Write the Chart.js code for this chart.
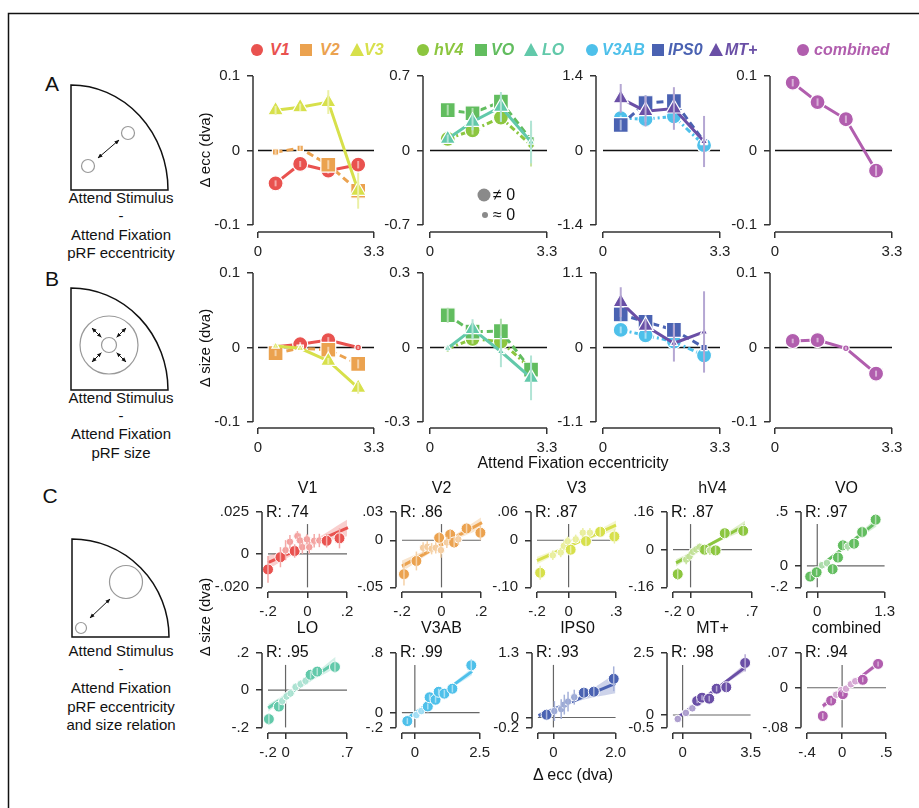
<!DOCTYPE html>
<html><head><meta charset="utf-8">
<script src="https://cdn.jsdelivr.net/npm/chart.js@4.4.0/dist/chart.umd.min.js"></script>
<style>
body{margin:0;background:#fff;font-family:"Liberation Sans",Arial,Helvetica,sans-serif;}
#root{position:relative;width:919px;height:808px;overflow:hidden;background:#fff;}
.t{position:absolute;white-space:nowrap;color:#111;line-height:1;}
canvas{position:absolute;}
svg{position:absolute;left:0;top:0;}
</style></head><body><div id="root"></div>
<script>
// ---------------- DATA ----------------
const areaNames = ['V1','V2','V3','hV4','VO','LO','V3AB','IPS0','MT+','combined'];
const panelAreas = [[0,1,2],[3,4,5],[6,7,8],[9]];
const attendFixEcc = [0.5, 1.2, 2.0, 2.85];
const xTicksAB = [0, 3.3];
const xLabelsAB = ['0', '3.3'];

// Row A: delta eccentricity (dva), per area, per eccentricity bin
const dEccMean = [
  [-0.044, -0.018, -0.027, -0.019],
  [-0.002, 0.003, -0.019, -0.054],
  [0.054, 0.058, 0.065, -0.054],
  [0.11, 0.19, 0.31, 0.05],
  [0.38, 0.35, 0.46, 0.10],
  [0.11, 0.27, 0.41, 0.08],
  [0.61, 0.59, 0.64, 0.10],
  [0.48, 0.89, 0.93, 0.17],
  [0.98, 0.74, 0.79, 0.17],
  [0.091, 0.065, 0.042, -0.027]
];
const dEccErr = [
  [0.004, 0.004, 0.004, 0.005],
  [0.003, 0.003, 0.006, 0.012],
  [0.006, 0.005, 0.016, 0.024],
  [0.04, 0.04, 0.04, 0.2],
  [0.05, 0.05, 0.05, 0.1],
  [0.04, 0.08, 0.14, 0.2],
  [0.05, 0.05, 0.05, 0.08],
  [0.1, 0.15, 0.15, 0.1],
  [0.27, 0.29, 0.4, 0.48],
  [0.005, 0.005, 0.005, 0.007]
];
const dEccSig = [
  [1,1,1,1],[0,0,1,1],[1,1,1,1],
  [1,1,1,0],[1,1,1,0],[1,1,1,0],
  [1,1,1,1],[1,1,1,0],[1,1,1,0],
  [1,1,1,1]
];
const yTicksA = [[-0.1,0,0.1],[-0.7,0,0.7],[-1.4,0,1.4],[-0.1,0,0.1]];
const yLabelsA = [['-0.1','0','0.1'],['-0.7','0','0.7'],['-1.4','0','1.4'],['-0.1','0','0.1']];

// Row B: delta size (dva)
const dSizeMean = [
  [0.001, 0.0044, 0.010, 0.0],
  [-0.0075, -0.001, -0.003, -0.022],
  [0.002, -0.001, -0.018, -0.054],
  [-0.005, 0.035, 0.024, -0.085],
  [0.13, 0.064, 0.066, -0.089],
  [-0.003, 0.074, -0.016, -0.122],
  [0.26, 0.18, 0.088, -0.117],
  [0.49, 0.38, 0.26, 0.0],
  [0.67, 0.32, 0.063, 0.23],
  [0.0088, 0.010, -0.001, -0.035]
];
const dSizeErr = [
  [0.003, 0.003, 0.004, 0.002],
  [0.004, 0.002, 0.004, 0.006],
  [0.002, 0.002, 0.004, 0.008],
  [0.01, 0.02, 0.02, 0.03],
  [0.03, 0.03, 0.05, 0.04],
  [0.01, 0.04, 0.063, 0.09],
  [0.05, 0.05, 0.08, 0.05],
  [0.1, 0.1, 0.1, 0.1],
  [0.22, 0.1, 0.27, 0.6],
  [0.003, 0.003, 0.002, 0.004]
];
const dSizeSig = [
  [0,1,1,0],[1,0,1,1],[0,0,1,1],
  [0,1,1,1],[1,1,1,1],[0,1,0,1],
  [1,1,1,1],[1,1,1,0],[1,1,0,0],
  [1,1,0,1]
];
const yTicksB = [[-0.1,0,0.1],[-0.3,0,0.3],[-1.1,0,1.1],[-0.1,0,0.1]];
const yLabelsB = [['-0.1','0','0.1'],['-0.3','0','0.3'],['-1.1','0','1.1'],['-0.1','0','0.1']];

// Row C: delta ecc (x) vs delta size (y) per area
const cX = [
  [-0.2,-0.137,-0.111,-0.089,-0.065,-0.051,-0.038,-0.026,-0.003,0.009,0.034,0.06,0.097,0.162],
  [-0.19,-0.127,-0.093,-0.072,-0.05,-0.029,-0.012,-0.003,0.027,0.044,0.064,0.085,0.127,0.197],
  [-0.18,-0.1,-0.05,-0.03,-0.006,0.013,0.045,0.09,0.11,0.135,0.2,0.29],
  [-0.146,-0.05,-0.012,0.027,0.065,0.104,0.16,0.22,0.285,0.39,0.6],
  [-0.136,-0.012,0.093,0.186,0.297,0.4,0.495,0.59,0.71,0.867,1.127],
  [-0.19,-0.076,-0.038,0.011,0.057,0.114,0.171,0.228,0.285,0.361,0.563],
  [-0.29,0.06,0.25,0.5,0.57,0.8,0.92,1.14,1.45,2.18],
  [-0.22,0.03,0.25,0.35,0.47,0.67,0.98,1.3,1.94],
  [-0.25,0.17,0.5,0.75,1.0,1.37,1.75,2.25,3.22],
  [-0.22,-0.125,-0.068,-0.011,0.008,0.045,0.1,0.15,0.235,0.41]
];
const cY = [
  [-0.0093,-0.002,0.0022,0.0072,0.0017,0.0106,0.008,0.004,0.0087,0.004,0.0078,0.008,0.0078,0.0093],
  [-0.036,-0.022,-0.008,-0.007,-0.009,-0.008,0.0026,-0.0105,-0.0023,0.006,-0.0023,0.001,0.0125,0.008],
  [-0.069,-0.032,-0.026,-0.012,-0.002,-0.02,0.002,0.016,-0.002,0.016,0.018,0.008],
  [-0.104,-0.042,-0.029,-0.009,0.001,0.011,0.0,-0.003,-0.003,0.07,0.08],
  [-0.1,-0.06,0.006,0.026,-0.031,0.077,0.19,0.18,0.206,0.314,0.429],
  [-0.155,-0.088,-0.058,-0.033,-0.017,0.017,0.033,0.05,0.083,0.1,0.125],
  [-0.115,-0.033,0.02,0.082,0.205,0.172,0.279,0.254,0.32,0.635],
  [0.056,0.13,0.17,0.26,0.32,0.41,0.5,0.52,0.78],
  [-0.16,0.085,0.27,0.57,0.7,0.66,1.06,1.12,2.1],
  [-0.057,-0.026,-0.014,-0.005,-0.013,-0.002,0.007,0.013,0.016,0.048]
];
const cErr = [
  [0.008,0.006,0.006,0.004,0.004,0.003,0.004,0.004,0.003,0.004,0.004,0.004,0.004,0.006],
  [0.012,0.01,0.006,0.006,0.006,0.006,0.006,0.008,0.006,0.006,0.006,0.006,0.006,0.008],
  [0.015,0.01,0.01,0.01,0.01,0.008,0.01,0.01,0.01,0.01,0.01,0.015],
  [0.025,0.02,0.02,0.015,0.015,0.015,0.02,0.02,0.02,0.02,0.02],
  [0.03,0.03,0.03,0.03,0.04,0.04,0.04,0.04,0.04,0.05,0.05],
  [0.03,0.02,0.02,0.02,0.02,0.02,0.02,0.02,0.02,0.02,0.03],
  [0.04,0.03,0.03,0.04,0.04,0.04,0.04,0.05,0.05,0.08],
  [0.1,0.2,0.2,0.2,0.2,0.15,0.1,0.1,0.25],
  [0.05,0.05,0.08,0.1,0.1,0.12,0.12,0.2,0.35],
  [0.006,0.006,0.004,0.004,0.004,0.004,0.004,0.004,0.005,0.005]
];
const cSig = [
  [1,1,0,0,1,0,0,0,0,0,0,0,1,1],
  [1,1,0,0,0,0,1,0,0,1,1,0,1,1],
  [1,0,0,0,0,1,0,0,1,0,1,1],
  [1,0,0,0,0,0,1,0,1,1,1],
  [1,1,0,0,1,1,1,0,1,1,1],
  [1,1,0,0,0,0,0,0,1,1,1],
  [1,0,0,1,1,1,1,1,1,1],
  [1,0,0,0,0,0,1,1,1],
  [0,0,0,1,1,1,1,1,1],
  [1,1,0,0,1,0,0,0,1,1]
];
// regression fit: intercept, slope
const cFit = [[0.0051,0.0515],[-0.0046,0.114],[-0.013,0.15],[-0.0227,0.202],[-0.024,0.375],
              [-0.032,0.319],[-0.008,0.254],[0.163,0.263],[0.042,0.584],[-0.007,0.136]];
const cFitX = [[-0.2,0.205],[-0.2,0.205],[-0.2,0.3],[-0.165,0.62],[-0.186,1.146],
               [-0.198,0.57],[-0.42,2.21],[-0.48,2.0],[-0.38,3.25],[-0.22,0.42]];
// confidence band half widths (left, middle, right)
const cBand = [[0.004,0.0015,0.005],[0.006,0.002,0.006],[0.008,0.003,0.01],[0.015,0.006,0.02],[0.03,0.01,0.04],
               [0.02,0.008,0.03],[0.03,0.015,0.05],[0.05,0.04,0.2],[0.08,0.04,0.15],[0.006,0.003,0.006]];
const cR = ['.74','.86','.87','.87','.97','.95','.99','.93','.98','.94'];
const cXTicks = [[-0.2,0,0.2],[-0.2,0,0.2],[-0.2,0,0.3],[-0.2,0,0.7],[-0.2,0,1.3],
                 [-0.2,0,0.7],[-0.5,0,2.5],[-0.5,0,2.0],[-0.5,0,3.5],[-0.4,0,0.5]];
const cXLabels = [['-.2','0','.2'],['-.2','0','.2'],['-.2','0','.3'],['-.2','0','.7'],['','0','1.3'],
                  ['-.2','0','.7'],['','0','2.5'],['','0','2.0'],['','0','3.5'],['-.4','0','.5']];
const cYTicks = [[-0.02,0,0.025],[-0.05,0,0.03],[-0.1,0,0.06],[-0.16,0,0.16],[-0.2,0,0.5],
                 [-0.2,0,0.2],[-0.2,0,0.8],[-0.2,0,1.3],[-0.5,0,2.5],[-0.08,0,0.07]];
const cYLabels = [['-.020','0','.025'],['-.05','0','.03'],['-.10','0','.06'],['-.16','0','.16'],['-.2','0','.5'],
                  ['-.2','0','.2'],['-.2','0','.8'],['-0.2','0','1.3'],['-0.5','0','2.5'],['-.08','0','.07']];

// ---------------- STYLE / LAYOUT ----------------
const FONT = '"Liberation Sans", Arial, Helvetica, sans-serif';
const areaColors = ['#e9524f','#eba24f','#d7e04b','#8cc63f','#62bd5f','#62c9aa','#4ec0ea','#4a62b2','#6a4fa6','#b15eae'];
const areaShapes = ['circle','rect','triangle','circle','rect','triangle','circle','rect','triangle','circle'];
const areaDash = [[],[7,4],[],[6,3,2,3],[7,4],[],[6,3,2,3],[7,4],[],[]];
const abSpineX = [253, 423, 596, 770];
const abX0 = [258, 430, 603, 775];
const abX1 = [374, 547, 720, 892];
const rowA = {yTop:74, yBot:225, spineY:232};
const rowB = {yTop:271, yBot:422, spineY:428};
const cSpineX = [262,396,531,667,801,262,396,532,667,801];
const cRow = [{yTop:506, yBot:587, spineY:592, title:488, r:512},{yTop:647, yBot:727, spineY:733, title:628, r:652}];

const root = document.getElementById('root');

function hexRGB(h){const n=parseInt(h.slice(1),16);return [n>>16&255,n>>8&255,n&255];}
function tint(h,f){const c=hexRGB(h).map(v=>Math.round(v+(255-v)*f));return `rgb(${c[0]},${c[1]},${c[2]})`;}
function rgba(h,a){const c=hexRGB(h);return `rgba(${c[0]},${c[1]},${c[2]},${a})`;}

function txt(s,x,y,o={}){
  const d=document.createElement('div'); d.className='t'; d.textContent=s;
  d.style.left=x+'px'; d.style.top=y+'px';
  d.style.fontSize=(o.size||15)+'px';
  if(o.color) d.style.color=o.color;
  if(o.weight) d.style.fontWeight=o.weight;
  if(o.italic) d.style.fontStyle='italic';
  const ax=o.anchor==='left'?'0':'-50%';
  d.style.transform=`translate(${ax},-50%)`+(o.rot?` rotate(${o.rot}deg)`:'');
  if(o.rot) d.style.transform=`translate(-50%,-50%) rotate(${o.rot}deg)`;
  root.appendChild(d); return d;
}

const spinePlugin = {
  id:'spines',
  afterDraw(chart, args, o){
    const {ctx, chartArea:a, scales:{x,y}} = chart;
    ctx.save(); ctx.strokeStyle='#333'; ctx.lineWidth=1.5;
    ctx.beginPath();
    ctx.moveTo(a.left, y.getPixelForValue(o.yMax)); ctx.lineTo(a.left, y.getPixelForValue(o.yMin));
    ctx.moveTo(x.getPixelForValue(o.xMin), a.bottom); ctx.lineTo(x.getPixelForValue(o.xMax), a.bottom);
    ctx.stroke(); ctx.restore();
  }
};
const errPlugin = {
  id:'errbars',
  afterDatasetDraw(chart, args){
    const ds = chart.data.datasets[args.index];
    if(!ds.errs) return;
    const ctx=chart.ctx, ys=chart.scales.y;
    ctx.save(); ctx.strokeStyle=ds.errColor; ctx.lineWidth=ds.errWidth||2;
    args.meta.data.forEach((pt,i)=>{
      const v=ds.data[i].y, e=ds.errs[i]; if(!e) return;
      ctx.beginPath(); ctx.moveTo(pt.x, ys.getPixelForValue(v+e)); ctx.lineTo(pt.x, ys.getPixelForValue(v-e)); ctx.stroke();
    });
    ctx.restore();
  }
};

function buildChart(g, datasets){
  const Wy=g.wy, Hx=g.hx, padTop=g.padTop, padRight=g.padRight;
  const W = Wy + (g.x1px - g.spineX) + padRight;
  const H = padTop + (g.spineY - g.yTop) + Hx;
  const cv = document.createElement('canvas');
  cv.width=W; cv.height=H;
  cv.style.left=(g.spineX-Wy)+'px'; cv.style.top=(g.yTop-padTop)+'px';
  cv.style.width=W+'px'; cv.style.height=H+'px';
  root.appendChild(cv);
  const xr=g.xMax-g.xMin, yr=g.yMax-g.yMin;
  const sxMin = g.xMin - (g.x0px-g.spineX)*xr/(g.x1px-g.x0px);
  const syMin = g.yMin - (g.spineY-g.yBot)*yr/(g.yBot-g.yTop);
  const tickFont = {size:15, family:FONT};
  new Chart(cv, {
    type:'scatter',
    data:{datasets},
    options:{
      responsive:false, animation:false, devicePixelRatio:1,
      layout:{padding:{top:padTop,right:padRight,left:0,bottom:0}},
      plugins:{legend:{display:false}, tooltip:{enabled:false},
               spines:{xMin:g.xMin,xMax:g.xMax,yMin:g.yMin,yMax:g.yMax}},
      scales:{
        x:{type:'linear', min:sxMin, max:g.xMax,
           afterFit(s){s.height=Hx;},
           afterBuildTicks(s){s.ticks=g.xTicks.map(v=>({value:v}));},
           ticks:{callback:(v,i)=>g.xLabels[i], font:tickFont, color:'#222', padding:5, autoSkip:false, maxRotation:0, minRotation:0},
           grid:{display:true, drawOnChartArea:false, drawTicks:true, tickLength:6, color:'#333', lineWidth:1.5},
           border:{display:false}},
        y:{type:'linear', min:syMin, max:g.yMax,
           afterFit(s){s.width=Wy;},
           afterBuildTicks(s){s.ticks=g.yTicks.map(v=>({value:v}));},
           ticks:{callback:(v,i)=>g.yLabels[i], font:tickFont, color:'#222', padding:7, autoSkip:false},
           grid:{display:true, drawOnChartArea:false, drawTicks:true, tickLength:6, color:'#333', lineWidth:1.5},
           border:{display:false}}
      }
    },
    plugins:[spinePlugin, errPlugin]
  });
}

function radiusFor(shape, big){
  if(shape==='rect') return big?10.5:4.5;
  if(shape==='triangle') return big?9:4.2;
  return big?7.5:3.3;
}

function abPanel(p, row, means, errs, sigs, yTicks, yLabels){
  const areas = panelAreas[p];
  const ds = [{data:[{x:0,y:0},{x:3.3,y:0}], showLine:true, borderColor:'#111', borderWidth:1.5,
               pointRadius:0, order:100, clip:false}];
  areas.forEach((a,k)=>{
    const col=areaColors[a], shape=areaShapes[a];
    ds.push({
      data: attendFixEcc.map((x,i)=>({x, y:means[a][i]})),
      showLine:true, borderColor:col, borderWidth:3, borderDash:areaDash[a],
      pointStyle:shape, pointRadius: sigs[a].map(s=>radiusFor(shape,s)),
      pointBackgroundColor:col, pointBorderColor:'#fff', pointBorderWidth:1.2,
      errs: errs[a], errColor: tint(col,0.5), errWidth:2, clip:false, order:10-k
    });
  });
  buildChart({spineX:abSpineX[p], x0px:abX0[p], x1px:abX1[p], yTop:row.yTop, yBot:row.yBot, spineY:row.spineY,
    xMin:0, xMax:3.3, yMin:yTicks[0], yMax:yTicks[2], xTicks:xTicksAB, xLabels:xLabelsAB,
    yTicks, yLabels, wy:50, hx:30, padTop:14, padRight:16}, ds);
}
for(let p=0;p<4;p++){
  abPanel(p, rowA, dEccMean, dEccErr, dEccSig, yTicksA[p], yLabelsA[p]);
  abPanel(p, rowB, dSizeMean, dSizeErr, dSizeSig, yTicksB[p], yLabelsB[p]);
}

function cPanel(i){
  const col=areaColors[i];
  const row=cRow[i<5?0:1];
  const [b0,b1]=cFit[i], [xs,xe]=cFitX[i], bw=cBand[i];
  const f=x=>b0+b1*x;
  const bx=[xs,(xs+xe)/2,xe];
  const yMin=cYTicks[i][0], yMax=cYTicks[i][2], xMin=cXTicks[i][0], xMax=cXTicks[i][2];
  const vTop = yMin + 0.84*(yMax-yMin);
  const ds = [
    {data:[{x:xMin,y:0},{x:xMax,y:0}], showLine:true, borderColor:'#666', borderWidth:1.2, pointRadius:0, order:50, clip:false},
    {data:[{x:0,y:yMin},{x:0,y:vTop}], showLine:true, borderColor:'#666', borderWidth:1.2, pointRadius:0, order:50, clip:false},
    {data:bx.map((x,k)=>({x,y:f(x)-bw[k]})), showLine:true, borderColor:'rgba(0,0,0,0)', borderWidth:1, pointRadius:0, tension:0.4, order:40, fill:false, clip:false},
    {data:bx.map((x,k)=>({x,y:f(x)+bw[k]})), showLine:true, borderColor:'rgba(0,0,0,0)', borderWidth:1, pointRadius:0, tension:0.4, order:39, fill:'-1', backgroundColor:rgba(col,0.28), clip:false},
    {data:[{x:xs,y:f(xs)},{x:xe,y:f(xe)}], showLine:true, borderColor:col, borderWidth:3, pointRadius:0, order:5, clip:false},
    {data:cX[i].map((x,k)=>({x,y:cY[i][k]})), showLine:false,
     pointRadius:cSig[i].map(s=>s?5.5:3.8),
     pointBackgroundColor:cSig[i].map(s=>s?col:tint(col,0.45)),
     pointBorderColor:'#fff', pointBorderWidth:1,
     errs:cErr[i], errColor:tint(col,0.5), errWidth:1.5, order:1, clip:false}
  ];
  const sx=cSpineX[i];
  buildChart({spineX:sx, x0px:sx+6, x1px:sx+85, yTop:row.yTop, yBot:row.yBot, spineY:row.spineY,
    xMin, xMax, yMin, yMax, xTicks:cXTicks[i], xLabels:cXLabels[i], yTicks:cYTicks[i], yLabels:cYLabels[i],
    wy:50, hx:28, padTop:10, padRight:14}, ds);
  txt(areaNames[i], sx+6+39.5, row.title, {size:16});
  txt('R: '+cR[i], sx+4, row.r, {size:16, anchor:'left'});
}
for(let i=0;i<10;i++) cPanel(i);

// ---------------- TEXT ----------------
txt('A', 52, 83, {size:21});
txt('B', 52, 278, {size:21});
txt('C', 50, 495, {size:21});
[['Attend Stimulus',197],['-',215],['Attend Fixation',234],['pRF eccentricity',252]].forEach(([s,y])=>txt(s,121,y));
[['Attend Stimulus',397],['-',415],['Attend Fixation',433],['pRF size',452]].forEach(([s,y])=>txt(s,121,y));
[['Attend Stimulus',650],['-',668],['Attend Fixation',687],['pRF eccentricity',706],['and size relation',724]].forEach(([s,y])=>txt(s,121,y));
txt('\u0394 ecc (dva)', 204, 150, {size:15, rot:-90});
txt('\u0394 size (dva)', 204, 348, {size:15, rot:-90});
txt('\u0394 size (dva)', 204, 617, {size:15, rot:-90});
txt('Attend Fixation eccentricity', 573, 463, {size:16});
txt('\u0394 ecc (dva)', 573, 775, {size:16});
txt('\u2260 0', 493, 195, {size:16, anchor:'left'});
txt('\u2248 0', 493, 215, {size:16, anchor:'left'});

// legend
const legX = [[257,270],[306,320],[357,364],[423,434],[481,491],[531,542],[592,602],[658,668],[716,725],[803,814]];
const legY = 50;
legX.forEach(([mx,tx],i)=>txt(areaNames[i], tx, legY, {size:16, weight:'bold', italic:true, color:areaColors[i], anchor:'left'}));

// ---------------- SVG (schematics, legend symbols, frame) ----------------
const ns='http://www.w3.org/2000/svg';
const svg=document.createElementNS(ns,'svg'); svg.setAttribute('width',919); svg.setAttribute('height',808);
let s='';
s+='<defs><marker id="ah" viewBox="0 0 10 10" refX="9" refY="5" markerWidth="5" markerHeight="5" orient="auto-start-reverse"><path d="M0,1 L10,5 L0,9 z" fill="#111"/></marker></defs>';
s+='<path d="M8.5,808 L8.5,13.5 L919,13.5" fill="none" stroke="#111" stroke-width="1.5"/>';
s+='<path d="M71,85 L71,190 L168,190 A97,105 0 0 0 71,85 Z" fill="none" stroke="#111" stroke-width="1.5"/>';
s+='<circle cx="88" cy="166" r="6.5" fill="none" stroke="#999" stroke-width="1.2"/>';
s+='<circle cx="128" cy="133" r="6.5" fill="none" stroke="#999" stroke-width="1.2"/>';
s+='<line x1="98" y1="158" x2="119" y2="140" stroke="#111" stroke-width="1" marker-start="url(#ah)" marker-end="url(#ah)"/>';
s+='<path d="M71,288 L71,390 L168,390 A97,102 0 0 0 71,288 Z" fill="none" stroke="#111" stroke-width="1.5"/>';
s+='<circle cx="109" cy="345" r="29" fill="none" stroke="#999" stroke-width="1.2"/>';
s+='<circle cx="109" cy="345" r="7.5" fill="none" stroke="#999" stroke-width="1.2"/>';
[45,135,225,315].forEach(a=>{const r=Math.PI*a/180, c=Math.cos(r), sn=Math.sin(r);
  s+=`<line x1="${109+11*c}" y1="${345+11*sn}" x2="${109+24*c}" y2="${345+24*sn}" stroke="#111" stroke-width="1" marker-start="url(#ah)" marker-end="url(#ah)"/>`;});
s+='<path d="M72,539 L72,637 L169,637 A97,98 0 0 0 72,539 Z" fill="none" stroke="#111" stroke-width="1.5"/>';
s+='<circle cx="81" cy="628" r="5.5" fill="none" stroke="#999" stroke-width="1.2"/>';
s+='<circle cx="126" cy="582" r="16.5" fill="none" stroke="#999" stroke-width="1.2"/>';
s+='<line x1="90" y1="618" x2="110" y2="599" stroke="#111" stroke-width="1" marker-start="url(#ah)" marker-end="url(#ah)"/>';
// significance key
s+='<circle cx="484" cy="195" r="6.5" fill="#8a8a8a"/><circle cx="485" cy="215" r="3" fill="#8a8a8a"/>';
// legend symbols
legX.forEach(([mx],i)=>{
  const c=areaColors[i], sh=areaShapes[i];
  if(sh==='circle') s+=`<circle cx="${mx}" cy="${legY}" r="6" fill="${c}"/>`;
  else if(sh==='rect') s+=`<rect x="${mx-6}" y="${legY-6}" width="12" height="12" fill="${c}"/>`;
  else s+=`<path d="M${mx},${legY-7} L${mx+7},${legY+6} L${mx-7},${legY+6} Z" fill="${c}"/>`;
});
svg.innerHTML=s;
root.insertBefore(svg, root.firstChild);
</script></body></html>
